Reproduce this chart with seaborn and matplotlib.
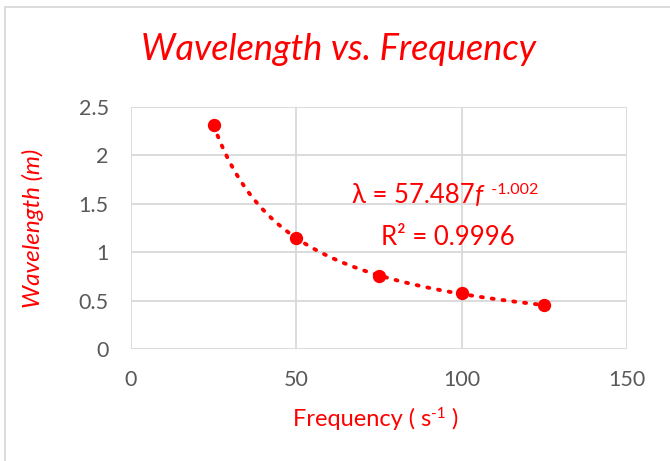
import numpy as np
import pandas as pd
import matplotlib
matplotlib.use("Agg")
import matplotlib.pyplot as plt
import seaborn as sns
from matplotlib.patches import Rectangle

# Data
frequency = [25, 50, 75, 100, 125]
wavelength = [2.31, 1.15, 0.75, 0.58, 0.45]
x_ticks = [0, 50, 100, 150]
y_ticks = [0, 0.5, 1, 1.5, 2, 2.5]
y_tick_labels = ["0", "0.5", "1", "1.5", "2", "2.5"]

sns.set_theme(style="white")
plt.rcParams['font.family'] = ['Lato', 'DejaVu Sans']

RED = "#ff0000"
df = pd.DataFrame({"f": frequency, "w": wavelength})

fig = plt.figure(figsize=(6.7, 4.61), dpi=100)
ax = fig.add_axes([131/670, 1-349/461, (627-131)/670, (349-107)/461])

# Power-law trendline fitted from the data
b, loga = np.polyfit(np.log(df["f"]), np.log(df["w"]), 1)
xs = np.linspace(min(frequency), max(frequency), 300)
ax.plot(xs, np.exp(loga) * xs ** b, color=RED, linestyle=(0, (0.5, 2.3)),
        linewidth=2.8, dash_capstyle="round", zorder=2)

sns.scatterplot(data=df, x="f", y="w", ax=ax, color=RED, s=92,
                edgecolor=RED, linewidth=0, zorder=3)

ax.set_xlim(0, 150)
ax.set_ylim(0, 2.5)
ax.set_xticks(x_ticks)
ax.set_yticks(y_ticks)
ax.set_yticklabels(y_tick_labels)
ax.grid(True, color="#d9d9d9", linewidth=1.3)
ax.set_axisbelow(True)
for s in ax.spines.values():
    s.set_visible(False)
ax.tick_params(axis="both", length=0, labelsize=15.5, labelcolor="#595959")
ax.tick_params(axis="x", pad=15)
ax.tick_params(axis="y", pad=16)
ax.set_xlabel("")
ax.set_ylabel("")

fig.text(33/670, 1-228/461, "Wavelength (m)", color=RED, fontsize=17.5,
         style="italic", ha="center", va="center", rotation=90)

fig.text(339/670, 1-50/461, "Wavelength vs. Frequency", color=RED, fontsize=26,
         style="italic", ha="center", va="center")

fig.canvas.draw()
renderer = fig.canvas.get_renderer()


def compose(x_px, y_px, pieces):
    """pieces: list of (text, fontsize, style, dy_px). x_px is left edge, y_px baseline (from top)."""
    cur = x_px
    for txt, fs, st, dy in pieces:
        t = fig.text(cur/670, 1-(y_px - dy)/461, txt, color=RED, fontsize=fs,
                     style=st, ha="left", va="baseline")
        bb = t.get_window_extent(renderer)
        cur += bb.width


# Equation label
compose(352, 203, [("λ = 57.487", 18.5, "normal", 0),
                   ("f", 18.5, "italic", 0),
                   ("  -1.002", 11.5, "normal", 9)])
fig.text(448/670, 1-245/461, "R² = 0.9996", color=RED, fontsize=18.5,
         ha="center", va="baseline")

# X axis label
compose(293, 426, [("Frequency ( s", 17, "normal", 0),
                   ("-1", 11, "normal", 8),
                   (" )", 17, "normal", 0)])

fig.patches.append(Rectangle((4.5/670, -0.1), 2.0, 1.1 - 7.5/461, transform=fig.transFigure,
                             fill=False, edgecolor="#d9d9d9", linewidth=1.3))

fig.savefig("out.png", dpi=100)
